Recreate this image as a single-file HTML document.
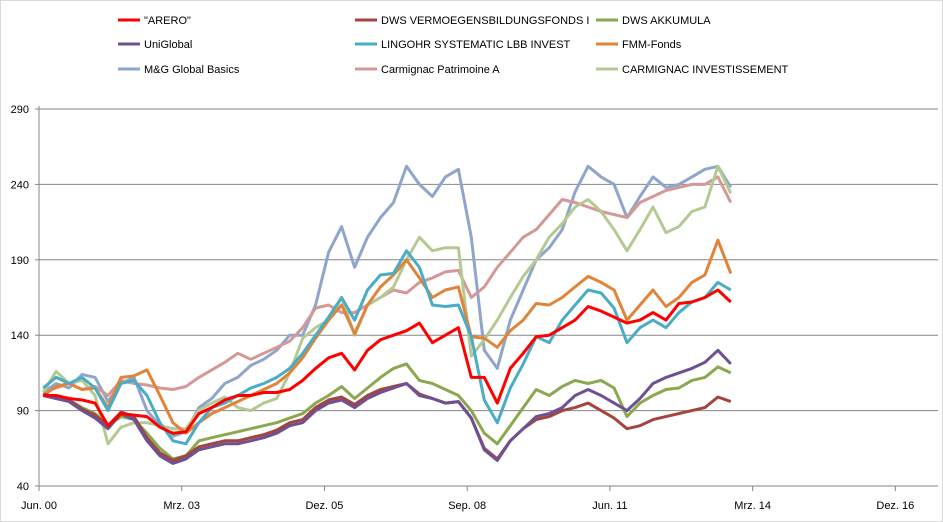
<!DOCTYPE html>
<html><head><meta charset="utf-8"><style>
body{margin:0;background:#fff}
svg{display:block;font-family:"Liberation Sans",sans-serif}
</style></head><body>
<svg id="chart" width="943" height="522" viewBox="0 0 943 522">
<rect x="0.5" y="0.5" width="942" height="521" fill="#fff" stroke="#d9d9d9"/>
<g id="grid"></g>
<g id="series"></g>
<g id="axes"></g>
<g id="legend"></g>
</svg>
<script>
const yTicks=[40,90,140,190,240,290];
const xTickYears=[2000.42,2003.17,2005.92,2008.67,2011.42,2014.17,2016.92];
const xTickLabels=["Jun. 00","Mrz. 03","Dez. 05","Sep. 08","Jun. 11","Mrz. 14","Dez. 16"];
const startYear=2000.5, stepYears=0.25;
const seriesNames=["M&G Global Basics","Carmignac Patrimoine A","CARMIGNAC INVESTISSEMENT","FMM-Fonds","LINGOHR SYSTEMATIC  LBB INVEST","DWS AKKUMULA","DWS VERMOEGENSBILDUNGSFONDS  I","UniGlobal","\"ARERO\""];
const mgGlobal=[102,108,105,114,112,96,108,112,90,80,73,76,92,98,108,112,120,124,130,140,140,160,195,212,185,205,218,228,252,240,232,245,250,205,130,118,150,170,190,198,210,235,252,245,240,218,232,245,238,240,245,250,252,238];
const carmPatrimoine=[102,105,108,104,106,100,110,108,107,105,104,106,112,117,122,128,124,128,132,136,145,158,160,155,155,160,165,170,168,175,178,182,183,165,172,185,195,205,210,220,230,228,225,222,220,218,228,232,236,238,240,240,245,228];
const carmInvest=[102,116,108,110,100,68,79,82,82,80,78,78,90,95,99,92,90,95,98,115,138,145,150,165,140,160,165,172,190,205,196,198,198,126,137,150,165,179,190,205,214,225,230,222,210,196,210,225,208,212,222,225,252,234];
const fmmFonds=[100,106,108,104,105,92,112,113,117,100,82,75,82,88,92,96,100,104,108,115,125,138,150,160,141,160,172,180,190,178,165,170,172,139,138,132,143,150,161,160,165,172,179,175,170,150,160,170,159,165,175,180,203,181];
const lingohr=[105,112,108,112,105,90,108,110,100,82,70,68,82,92,95,100,105,108,112,118,128,140,152,165,150,170,180,181,196,185,160,159,160,139,97,82,105,121,139,135,150,160,170,168,158,135,145,150,145,155,162,165,175,170];
const dwsAkkumula=[100,98,97,92,88,80,86,84,75,65,58,60,70,72,74,76,78,80,82,85,88,95,100,106,98,105,112,118,121,110,108,104,100,90,75,68,80,92,104,100,106,110,108,110,105,86,95,100,104,105,110,112,119,115];
const dwsVerm=[101,99,97,91,87,80,89,86,72,62,57,60,66,68,70,70,72,74,77,82,84,92,97,99,94,100,104,106,108,101,98,95,96,85,65,58,70,78,84,86,90,92,95,90,85,78,80,84,86,88,90,92,99,96];
const uniGlobal=[100,98,96,90,85,78,88,84,70,60,55,58,64,66,68,68,70,72,75,80,82,90,95,97,92,98,102,105,108,100,98,95,96,85,64,57,70,78,86,88,92,100,104,100,95,90,98,108,112,115,118,122,130,121];
const arero=[100,100,98,97,95,80,88,87,86,79,75,76,88,92,97,100,100,102,102,104,110,118,125,128,117,130,137,140,143,148,135,140,145,112,112,95,118,128,139,140,145,150,159,156,152,148,150,155,150,161,162,165,170,162];
const seriesData=[mgGlobal,carmPatrimoine,carmInvest,fmmFonds,lingohr,dwsAkkumula,dwsVerm,uniGlobal,arero];
const seriesColors=["#8EA5CC","#D49896","#B5CA92","#E0843A","#4BACC6","#8BA84E","#A4443F","#6E5193","#FF0000"];
const NS="http://www.w3.org/2000/svg";
const X0=39,XP=51.9,Y0=486,YP=377/250;
function xs(t){return X0+(t-2000.42)*XP;}
function ys(v){return Y0-(v-40)*YP;}
function mk(tag,attrs,parent){const e=document.createElementNS(NS,tag);for(const k in attrs)e.setAttribute(k,attrs[k]);parent.appendChild(e);return e;}
const grid=document.getElementById('grid'),axes=document.getElementById('axes'),ser=document.getElementById('series'),leg=document.getElementById('legend');
yTicks.forEach(v=>{
 if(v>40){const l=mk('line',{x1:X0,x2:938,y1:ys(v),y2:ys(v),stroke:'#868686','stroke-width':1},grid);
 
 }
 const tk=mk('line',{x1:X0-4,x2:X0,y1:ys(v),y2:ys(v),stroke:'#868686'},axes);
 
 
 const t=mk('text',{x:29,y:ys(v)+4,'text-anchor':'end','font-size':11,fill:'#000'},axes);
 t.textContent=v;
 
 
});
const ya=mk('line',{x1:X0,x2:X0,y1:ys(40),y2:ys(290)-3,stroke:'#868686'},axes);


const xa=mk('line',{x1:X0,x2:938,y1:Y0,y2:Y0,stroke:'#868686'},axes);


xTickYears.forEach((yr,i)=>{
 const tk=mk('line',{x1:xs(yr),x2:xs(yr),y1:Y0,y2:Y0+5,stroke:'#868686'},axes);
 
 
 const t=mk('text',{x:xs(yr),y:509,'text-anchor':'middle','font-size':11,fill:'#000'},axes);
 t.textContent=xTickLabels[i];
 
 
});
seriesData.forEach((d,i)=>{
 const pts=d.map((v,j)=>xs(startYear+j*stepYears).toFixed(1)+','+ys(v).toFixed(1)).join(' ');
 const p=mk('polyline',{points:pts,fill:'none',stroke:seriesColors[i],'stroke-width':3,'stroke-linejoin':'round'},ser);
 
 
});
const legendOrder=[8,6,5,7,4,3,0,1,2];
const colX=[118,355,596],rowY=[20,44,69];
legendOrder.forEach((si,k)=>{
 const cx=colX[k%3],cy=rowY[Math.floor(k/3)];
 const g=mk('g',{},leg);
 
 
 mk('line',{x1:cx,x2:cx+22,y1:cy,y2:cy,stroke:seriesColors[si],'stroke-width':3},g);
 const t=mk('text',{x:cx+26,y:cy+4,'font-size':11,fill:'#000'},g);
 t.textContent=seriesNames[si];
});
</script>
</body></html>
